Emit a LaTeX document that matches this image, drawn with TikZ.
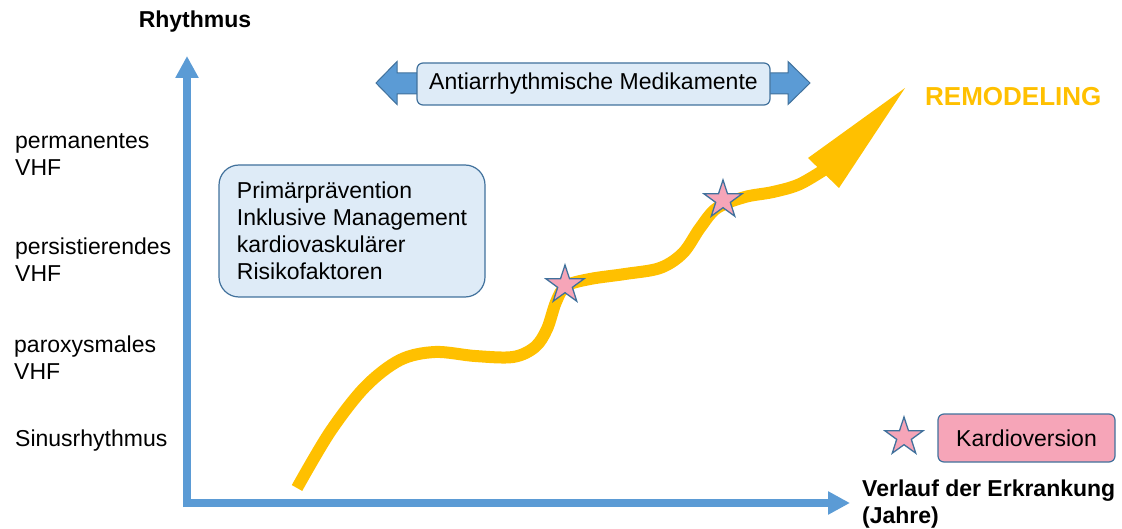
\documentclass[tikz,border=0pt]{standalone}
\usepackage{fontspec}
\setmainfont{Liberation Sans}
\usetikzlibrary{arrows.meta,shapes.geometric}
\definecolor{axisblue}{HTML}{5B9BD5}
\definecolor{frameblue}{HTML}{41719C}
\definecolor{boxblue}{HTML}{DEEBF7}
\definecolor{remodyellow}{HTML}{FFC000}
\definecolor{starpink}{HTML}{F6A5B8}
\tikzset{
  axisline/.style={axisblue, line width=7.5pt, -{Triangle[width=22pt,length=22pt]}},
  infobox/.style={draw=frameblue, line width=1.2pt, fill=boxblue, rounded corners=6pt},
  cvstar/.style={star, star points=5, star point ratio=2.6, minimum size=40pt,
    inner sep=0pt, draw=frameblue, fill=starpink, line width=1.3pt},
  axislabel/.style={anchor=west, align=left, inner sep=0pt},
}
\begin{document}
\begin{tikzpicture}[x=1pt,y=1pt,every node/.style={font=\fontsize{23}{27}\selectfont}]
    \useasboundingbox (0,0) rectangle (1122,528);
    %% axes
    \draw[axisline] (183,25) -- (850,25);
    \draw[axisline] (187,21) -- (187,472);
    \node[font=\fontsize{23}{27}\selectfont\bfseries] (rhythm) at (195,506) {Rhythmus};
    \node[axislabel, font=\fontsize{23}{27}\selectfont\bfseries] (verlauf) at (862,24)
        {Verlauf der Erkrankung\\(Jahre)};
    %% stages of rhythm
    \node[axislabel] (perm) at (15,373) {permanentes\\VHF};
    \node[axislabel] (pers) at (15,268) {persistierendes\\VHF};
    \node[axislabel] (parox) at (14,170) {paroxysmales\\VHF};
    \node[axislabel] (sinus) at (15,87) {Sinusrhythmus};
    %% medication
    \filldraw[fill=axisblue, draw=frameblue, line width=1pt]
        (376,445) -- (397,466.5) -- (397,455) -- (788,455) -- (788,466.5) -- (810,445)
        -- (788,423.5) -- (788,434) -- (397,434) -- (397,423.5) -- cycle;
    \node[infobox, minimum width=353pt, minimum height=42pt] (meds) at (593.5,444)
        {Antiarrhythmische Medikamente};
    %% prevention
    \node[infobox, rounded corners=20pt, minimum width=266pt, minimum height=132pt,
        align=left] (praev) at (352,297)
        {Primärprävention\\Inklusive Management\\kardiovaskulärer\\Risikofaktoren};
    %% course of the disease
    \draw[remodyellow, line width=12pt, line join=round] plot[smooth, tension=0.55]
        coordinates {(297,40) (330,96) (365,141) (400,168) (435,176) (475,172) (513,171)
        (535,181) (547,199) (556,226) (566,242) (590,249) (625,254) (660,260) (683,275)
        (700,300) (717,320) (745,331) (773,336) (800,344) (830,362)};
    \fill[remodyellow] (905,440) -- (808,370) -- (839,340) -- cycle;
    \node[axislabel, text=remodyellow, font=\fontsize{26}{30}\selectfont\bfseries]
        (remod) at (925,431) {REMODELING};
    \foreach \name/\x/\y in {kvA/565/243, kvB/723/328}
        \node[cvstar] (\name) at (\x,\y) {};
    %% legend
    \node[cvstar] (legstar) at (904,91) {};
    \node[draw=frameblue, fill=starpink, rounded corners=6pt, line width=1.2pt,
        minimum width=177pt, minimum height=48pt] (kardio) at (1026.5,90) {Kardioversion};
\end{tikzpicture}
\end{document}
